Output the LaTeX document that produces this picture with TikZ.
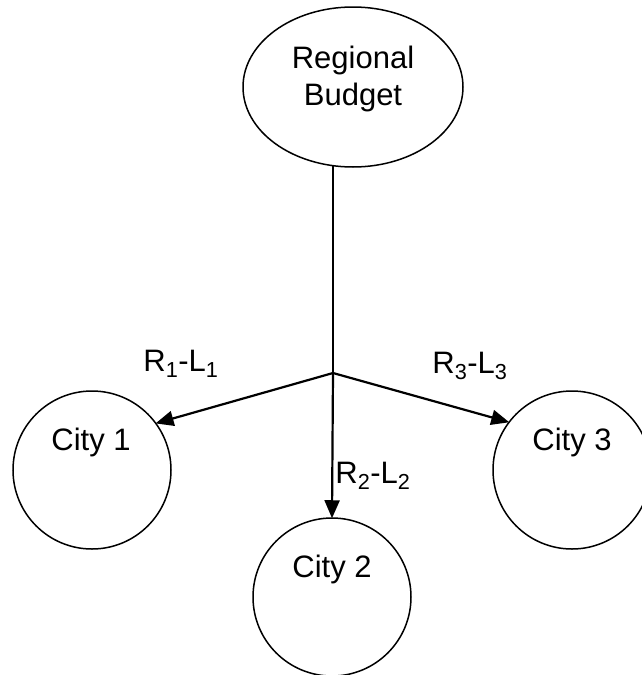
\documentclass[tikz,border=0pt]{standalone}
\usepackage{fontspec}
\setmainfont{Liberation Sans}
\usetikzlibrary{arrows.meta,shapes.geometric}
\begin{document}
\begin{tikzpicture}[x=1pt,y=-1pt,
  shapeline/.style={draw=black,line width=1.5pt},
  conn/.style={draw=black,line width=2.2pt},
  arr/.style={conn,-{Triangle[length=18pt,width=15pt]},shorten >=-1pt},
  lbl/.style={inner sep=0pt,font=\fontsize{31}{37}\selectfont,anchor=base},
  city/.style={shapeline,circle,minimum size=158pt,inner sep=0pt}]
\useasboundingbox (0,0) rectangle (642,675);
\fill[white] (0,0) rectangle (642,675);
% shapes
\node[shapeline,ellipse,minimum width=220pt,minimum height=160pt,inner sep=0pt] (rb) at (353,87) {};
\node[inner sep=0pt,align=center,font=\fontsize{31}{37}\selectfont] (rbt) at (353,79) {Regional\\Budget};
\node[city] (c1) at (92,470) {};
\node[city] (c2) at (332,597) {};
\node[city] (c3) at (572,470) {};
\node[lbl] (c1t) at (91,450) {City 1};
\node[lbl] (c2t) at (332,577) {City 2};
\node[lbl] (c3t) at (572,450) {City 3};
% junction
\coordinate (j) at (333,373);
\coordinate (top) at (333,166);
\draw[conn] (top) -- (j);
\draw[arr] (j) -- (c1.36);
\draw[arr] (j) -- (c2.north);
\draw[arr] (j) -- (c3.143);
% labels
\node[lbl] (l1) at (181,371) {R\textsubscript{1}-L\textsubscript{1}};
\node[lbl] (l2) at (373,483) {R\textsubscript{2}-L\textsubscript{2}};
\node[lbl] (l3) at (470,373) {R\textsubscript{3}-L\textsubscript{3}};
\end{tikzpicture}
\end{document}
